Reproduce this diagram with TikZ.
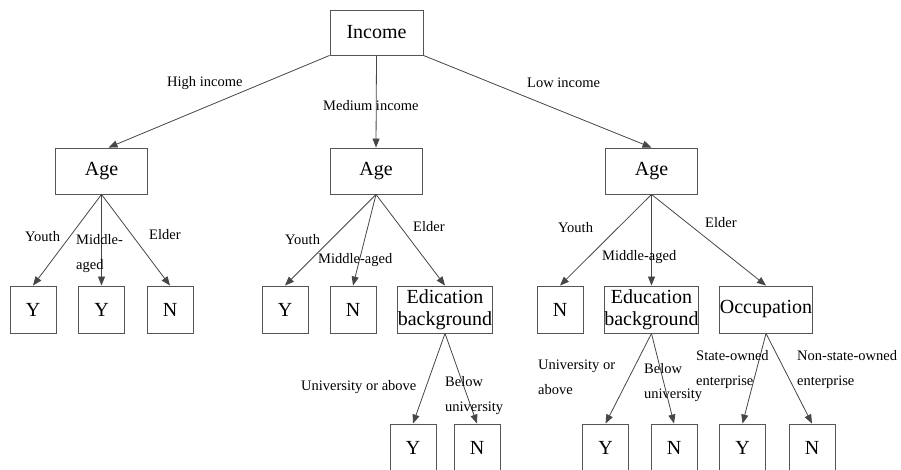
\documentclass[tikz,border=0pt]{standalone}
\usepackage{fontspec}
\setmainfont{Liberation Serif}
\usetikzlibrary{arrows.meta}
\definecolor{linegray}{RGB}{70,70,70}
\definecolor{boxgray}{RGB}{85,85,85}
\tikzset{
    box/.style = {rectangle, draw=boxgray, line width=0.9pt, minimum width=46pt, minimum height=47pt, inner sep=0pt, align=center, font=\fontsize{20}{22}\selectfont},
    wbox/.style = {box, minimum width=92pt, minimum height=46pt},
    lbl/.style = {inner sep=0pt, anchor=base west, font=\fontsize{14.5}{25}\selectfont},
    lbl2/.style = {lbl, anchor=north west, align=left},
    edgen/.style = {-{Triangle[length=9pt,width=7pt]}, draw=linegray, line width=0.8pt}
}
\begin{document}
\begin{tikzpicture}[x=1pt,y=-1pt]
\useasboundingbox (0,0) rectangle (901,470);
%
\node[wbox,minimum width=93pt,minimum height=45pt] at (376.5,32.5) (inc) {Income};
\node[wbox] at (101.5,171) (agel) {Age};
\node[wbox] at (376,171) (agem) {Age};
\node[wbox] at (651.5,171) (ager) {Age};
%
\node[box] at (33,309.5) (ly1) {Y};
\node[box] at (101.5,309.5) (ly2) {Y};
\node[box] at (170,309.5) (ln) {N};
\node[box] at (285,309.5) (my) {Y};
\node[box] at (353,309.5) (mn) {N};
\node[wbox,minimum height=47pt] at (445,309.5) (medu) {Edication\\background};
\node[box] at (560,309.5) (rn) {N};
\node[wbox,minimum height=47pt] at (651.5,309.5) (redu) {Education\\background};
\node[wbox,minimum height=47pt] at (766,309.5) (rocc) {Occupation};
%
\node[box] at (413,447.5) (muy) {Y};
\node[box] at (477,447.5) (mbn) {N};
\node[box] at (605.5,447.5) (ruy) {Y};
\node[box] at (674,447.5) (rbn) {N};
\node[box] at (742.5,447.5) (rsy) {Y};
\node[box] at (812,447.5) (rnn) {N};
%
\draw[edgen] (inc.south west) -- ([xshift=7pt]agel.north);
\draw[edgen] (inc.south) -- (agem.north);
\draw[edgen] (inc.south east) -- (ager.north);
\draw[edgen] (agel.south) -- (ly1.north);
\draw[edgen] (agel.south) -- (ly2.north);
\draw[edgen] (agel.south) -- (ln.north);
\draw[edgen] (agem.south) -- (my.north);
\draw[edgen] (agem.south) -- (mn.north);
\draw[edgen] (agem.south) -- (medu.north);
\draw[edgen] (ager.south) -- (rn.north);
\draw[edgen] (ager.south) -- (redu.north);
\draw[edgen] (ager.south) -- (rocc.north);
\draw[edgen] (medu.south) -- (muy.north);
\draw[edgen] (medu.south) -- (mbn.north);
\draw[edgen] (redu.south) -- (ruy.north);
\draw[edgen] (redu.south) -- (rbn.north);
\draw[edgen] (rocc.south) -- (rsy.north);
\draw[edgen] (rocc.south) -- (rnn.north);
%
\node[lbl] at (167,87) (thigh) {High income};
\node[lbl] at (323,111) (tmed) {Medium income};
\node[lbl] at (527,88) (tlow) {Low income};
\node[lbl] at (25,241) (tly) {Youth};
\node[lbl2] at (76,234) (tlm) {Middle-\\aged};
\node[lbl] at (149,240) (tle) {Elder};
\node[lbl] at (285,244) (tmy) {Youth};
\node[lbl] at (318,263) (tmm) {Middle-aged};
\node[lbl] at (413,232) (tme) {Elder};
\node[lbl] at (558,233) (try) {Youth};
\node[lbl] at (602,260) (trm) {Middle-aged};
\node[lbl] at (705,228) (tre) {Elder};
\node[lbl] at (301,390) (tmu) {University or above};
\node[lbl2] at (445,376) (tmb) {Below\\university};
\node[lbl2] at (538,360) (tru) {University or\\above};
\node[lbl2] at (644,363) (trb) {Below\\university};
\node[lbl2] at (696,350) (trs) {State-owned\\enterprise};
\node[lbl2] at (797,350) (trn) {Non-state-owned\\enterprise};
\end{tikzpicture}
\end{document}
